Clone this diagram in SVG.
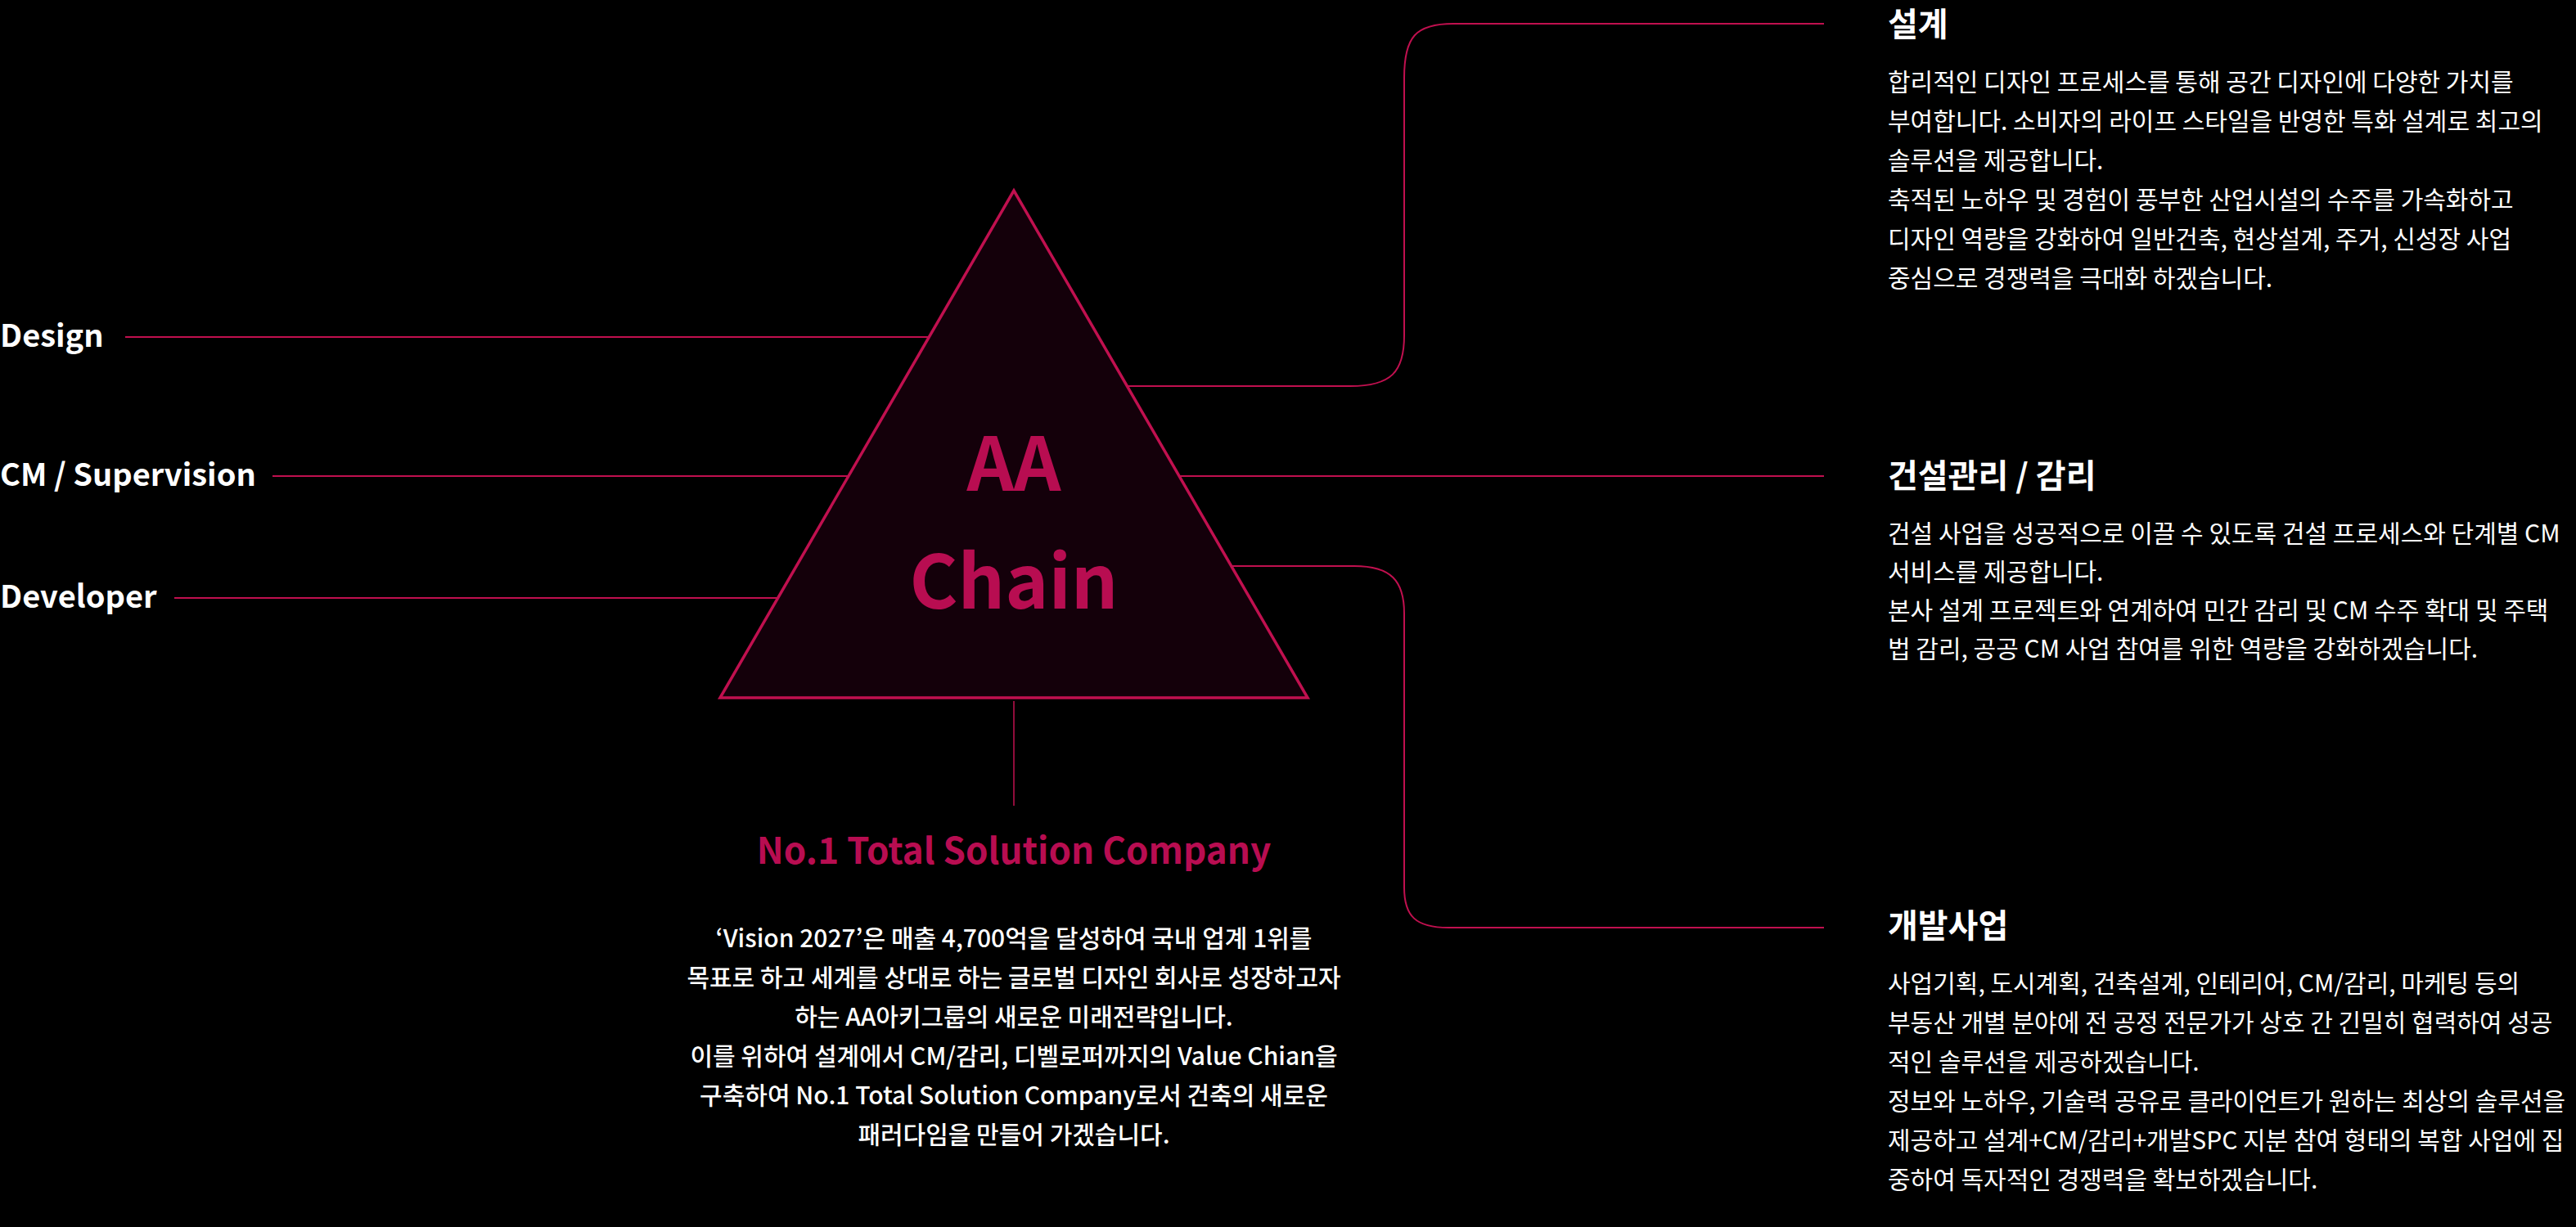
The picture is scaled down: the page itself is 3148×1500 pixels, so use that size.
<svg xmlns="http://www.w3.org/2000/svg" width="3148" height="1500" viewBox="0 0 3148 1500">
<style>
.bg{fill:#000}
.ln{fill:none;stroke:#c0104f;stroke-width:2}
.tri{fill:#14000a;stroke:#c0104f;stroke-width:3.5;stroke-linejoin:miter}
.lbl{font-family:"Noto Sans CJK KR","Noto Sans",sans-serif;font-weight:700;font-size:38px;fill:#fff}
.big{font-family:"Noto Sans CJK KR","Noto Sans",sans-serif;font-weight:700;font-size:90px;fill:#b80d51;text-anchor:middle}
.slogan{font-family:"Noto Sans CJK KR","Noto Sans",sans-serif;font-weight:700;font-size:44px;fill:#b80d51;text-anchor:middle}
.cp{font-family:"Noto Sans CJK KR","Noto Sans",sans-serif;font-weight:500;font-size:30px;fill:#fff;text-anchor:middle}
.hd{font-family:"Noto Sans CJK KR","Noto Sans",sans-serif;font-weight:700;font-size:40px;fill:#fff}
.tx{font-family:"Noto Sans CJK KR","Noto Sans",sans-serif;font-weight:400;font-size:30px;fill:#fff}
</style>
<rect class="bg" x="0" y="0" width="3148" height="1500"/>
<g id="connectors">
<line class="ln" x1="153" y1="412" x2="1135" y2="412"/>
<line class="ln" x1="333" y1="582" x2="1037" y2="582"/>
<line class="ln" x1="213" y1="731" x2="950" y2="731"/>
<path class="ln" d="M1377,472 H1650 C1700,472 1716,455 1716,410 V95 C1716,45 1730,29 1776,29 H2229"/>
<line class="ln" x1="1441" y1="582" x2="2229" y2="582"/>
<path class="ln" d="M1505,692 H1655 C1700,692 1716,710 1716,750 V1085 C1716,1120 1730,1134 1770,1134 H2229"/>
<line class="ln" x1="1239" y1="857" x2="1239" y2="985" style="stroke-width:1.5"/>
</g>
<g id="node-design"><text class="lbl" x="0" y="424">Design</text></g>
<g id="node-cm"><text class="lbl" x="0" y="594">CM / Supervision</text></g>
<g id="node-developer"><text class="lbl" x="0" y="743">Developer</text></g>
<g id="node-aachain">
<polygon class="tri" points="1239,233 880,853 1598,853"/>
<text class="big" x="1239" y="600">AA</text>
<text class="big" x="1239" y="744">Chain</text>
</g>
<g id="node-vision">
<text class="slogan" x="1239" y="1056">No.1 Total Solution Company</text>
<text class="cp" x="1239" y="1158">‘Vision 2027’은 매출 4,700억을 달성하여 국내 업계 1위를</text>
<text class="cp" x="1239" y="1206">목표로 하고 세계를 상대로 하는 글로벌 디자인 회사로 성장하고자</text>
<text class="cp" x="1239" y="1254">하는 AA아키그룹의 새로운 미래전략입니다.</text>
<text class="cp" x="1239" y="1302">이를 위하여 설계에서 CM/감리, 디벨로퍼까지의 Value Chian을</text>
<text class="cp" x="1239" y="1350">구축하여 No.1 Total Solution Company로서 건축의 새로운</text>
<text class="cp" x="1239" y="1398">패러다임을 만들어 가겠습니다.</text>
</g>
<g id="node-sec1">
<text class="hd" x="2307" y="44">설계</text>
<text class="tx" x="2307" y="111">합리적인 디자인 프로세스를 통해 공간 디자인에 다양한 가치를</text>
<text class="tx" x="2307" y="159">부여합니다. 소비자의 라이프 스타일을 반영한 특화 설계로 최고의</text>
<text class="tx" x="2307" y="207">솔루션을 제공합니다.</text>
<text class="tx" x="2307" y="255">축적된 노하우 및 경험이 풍부한 산업시설의 수주를 가속화하고</text>
<text class="tx" x="2307" y="303">디자인 역량을 강화하여 일반건축, 현상설계, 주거, 신성장 사업</text>
<text class="tx" x="2307" y="351">중심으로 경쟁력을 극대화 하겠습니다.</text>
</g>
<g id="node-sec2">
<text class="hd" x="2307" y="596">건설관리 / 감리</text>
<text class="tx" x="2307" y="663">건설 사업을 성공적으로 이끌 수 있도록 건설 프로세스와 단계별 CM</text>
<text class="tx" x="2307" y="710">서비스를 제공합니다.</text>
<text class="tx" x="2307" y="757">본사 설계 프로젝트와 연계하여 민간 감리 및 CM 수주 확대 및 주택</text>
<text class="tx" x="2307" y="804">법 감리, 공공 CM 사업 참여를 위한 역량을 강화하겠습니다.</text>
</g>
<g id="node-sec3">
<text class="hd" x="2307" y="1146">개발사업</text>
<text class="tx" x="2307" y="1213">사업기획, 도시계획, 건축설계, 인테리어, CM/감리, 마케팅 등의</text>
<text class="tx" x="2307" y="1261">부동산 개별 분야에 전 공정 전문가가 상호 간 긴밀히 협력하여 성공</text>
<text class="tx" x="2307" y="1309">적인 솔루션을 제공하겠습니다.</text>
<text class="tx" x="2307" y="1357">정보와 노하우, 기술력 공유로 클라이언트가 원하는 최상의 솔루션을</text>
<text class="tx" x="2307" y="1405">제공하고 설계+CM/감리+개발SPC 지분 참여 형태의 복합 사업에 집</text>
<text class="tx" x="2307" y="1453">중하여 독자적인 경쟁력을 확보하겠습니다.</text>
</g>
</svg>
